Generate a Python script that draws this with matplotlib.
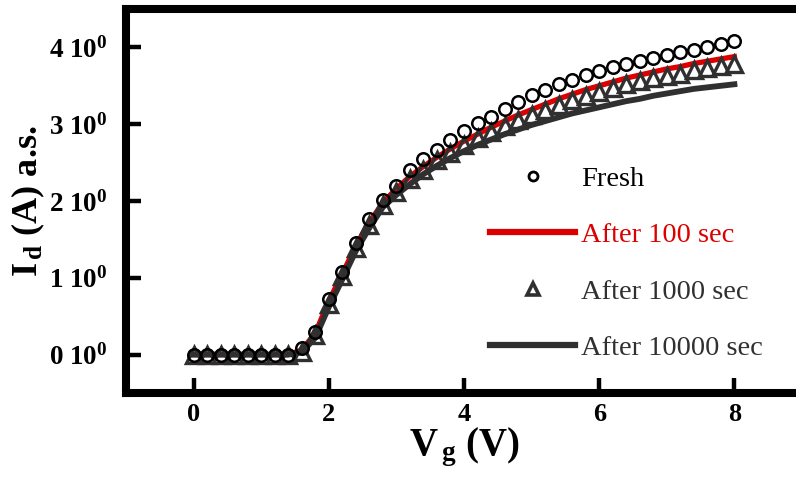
import matplotlib
matplotlib.use("Agg")
import matplotlib.pyplot as plt
import numpy as np

plt.rcParams['font.family'] = ['Liberation Serif', 'DejaVu Serif']
plt.rcParams['mathtext.fontset'] = 'custom'
plt.rcParams['mathtext.rm'] = 'Liberation Serif:bold'
plt.rcParams['mathtext.bf'] = 'Liberation Serif:bold'
plt.rcParams['mathtext.it'] = 'Liberation Serif:bold'

# ---- data ----
vg = [0.0, 0.2, 0.4, 0.6, 0.8, 1.0, 1.2, 1.4, 1.6, 1.8, 2.0, 2.2, 2.4, 2.6,
      2.8, 3.0, 3.2, 3.4, 3.6, 3.8, 4.0, 4.2, 4.4, 4.6, 4.8, 5.0, 5.2, 5.4,
      5.6, 5.8, 6.0, 6.2, 6.4, 6.6, 6.8, 7.0, 7.2, 7.4, 7.6, 7.8, 8.0]

fresh = [0.0, 0.0, 0.0, 0.0, 0.0, 0.0, 0.0, 0.0, 0.08, 0.30, 0.72, 1.08, 1.45, 1.76,
         2.01, 2.20, 2.40, 2.55, 2.67, 2.79, 2.91, 3.01, 3.10, 3.20, 3.29, 3.38, 3.45, 3.52,
         3.58, 3.64, 3.69, 3.74, 3.78, 3.82, 3.86, 3.90, 3.94, 3.97, 4.00, 4.04, 4.08]

after_100 = [0.0, 0.0, 0.0, 0.0, 0.0, 0.0, 0.0, 0.0, 0.06, 0.28, 0.70, 1.05, 1.42, 1.72,
             1.98, 2.16, 2.32, 2.45, 2.57, 2.68, 2.78, 2.87, 2.96, 3.04, 3.12, 3.19, 3.26, 3.33,
             3.39, 3.45, 3.50, 3.55, 3.60, 3.64, 3.68, 3.72, 3.75, 3.79, 3.82, 3.85, 3.88]

after_1000 = [0.0, 0.0, 0.0, 0.0, 0.0, 0.0, 0.0, 0.0, 0.04, 0.25, 0.66, 1.02, 1.39, 1.69,
              1.95, 2.12, 2.28, 2.41, 2.53, 2.63, 2.73, 2.82, 2.90, 2.98, 3.05, 3.12, 3.19, 3.25,
              3.31, 3.37, 3.42, 3.47, 3.52, 3.56, 3.60, 3.63, 3.66, 3.70, 3.73, 3.76, 3.78]

after_10000 = [0.0, 0.0, 0.0, 0.0, 0.0, 0.0, 0.0, 0.0, 0.03, 0.22, 0.62, 0.98, 1.35, 1.65,
               1.92, 2.08, 2.22, 2.35, 2.46, 2.56, 2.65, 2.73, 2.80, 2.87, 2.93, 2.99, 3.04, 3.09,
               3.14, 3.18, 3.22, 3.26, 3.30, 3.33, 3.37, 3.40, 3.43, 3.46, 3.48, 3.50, 3.52]

labels = ['Fresh', 'After 100 sec', 'After 1000 sec', 'After 10000 sec']
xticks = [0, 2, 4, 6, 8]
yticks = [0, 1, 2, 3, 4]
yticklabels = ['0 10$^{0}$', '1 10$^{0}$', '2 10$^{0}$', '3 10$^{0}$', '4 10$^{0}$']

red = '#dd0000'
dark = '#303030'

fig = plt.figure(figsize=(7.96, 4.96), dpi=100)
ax = fig.add_axes([126 / 796, 1 - 393 / 496, (802 - 126) / 796, 384 / 496])

l_fresh, = ax.plot(vg, fresh, linestyle='none', marker='o', markersize=9,
                   markerfacecolor='none', markeredgecolor='black', markeredgewidth=1.8,
                   label=labels[0], zorder=5)
l_100, = ax.plot(vg, after_100, color=red, linewidth=3.8, label=labels[1], zorder=3)
l_1000, = ax.plot(vg, after_1000, linestyle='none', marker='^', markersize=11,
                  markerfacecolor='none', markeredgecolor=dark, markeredgewidth=2.4,
                  label=labels[2], zorder=4)
l_10000, = ax.plot(vg, after_10000, color=dark, linewidth=4.2, label=labels[3], zorder=3)

ax.set_xlim(-1, 9)
ax.set_ylim(-0.5, 4.5)
ax.set_xticks(xticks)
ax.set_xticklabels([str(t) for t in xticks])
ax.set_yticks(yticks)
ax.set_yticklabels(yticklabels)

for s in ['left', 'bottom', 'top']:
    ax.spines[s].set_linewidth(5.8)
ax.spines['right'].set_visible(False)

ax.tick_params(axis='both', direction='in', length=11, width=3.2, top=False, right=False)
ax.tick_params(axis='y', labelsize=19.5, pad=13)
ax.tick_params(axis='x', labelsize=19, pad=7)
for lab in ax.get_xticklabels() + ax.get_yticklabels():
    lab.set_fontweight('bold')

ax.set_xlabel(r'V$_{\,\mathbf{g}}$ (V)', fontsize=28, fontweight='bold', labelpad=0)
ax.set_ylabel(r'I$_{\,\mathbf{d}}$ (A) a.s.', fontsize=26, fontweight='bold', labelpad=2)

leg = ax.legend(handles=[l_fresh, l_100, l_1000, l_10000], loc='upper left',
                bbox_to_anchor=(490 / 796, 1 - 166 / 496), bbox_transform=fig.transFigure,
                frameon=False, fontsize=20.5, handlelength=3.0, handletextpad=0.2,
                labelspacing=1.07, borderpad=0, borderaxespad=0)
text_colors = ['black', red, dark, dark]
for t, c in zip(leg.get_texts(), text_colors):
    t.set_color(c)
hs = leg.legend_handles
hs[0].set_markersize(6.5)
hs[0].set_markeredgewidth(2.0)
hs[2].set_markersize(8)
hs[2].set_markeredgewidth(2.6)
hs[1].set_linewidth(4.5)
hs[3].set_linewidth(4.5)

fig.savefig('out.png', dpi=100)
